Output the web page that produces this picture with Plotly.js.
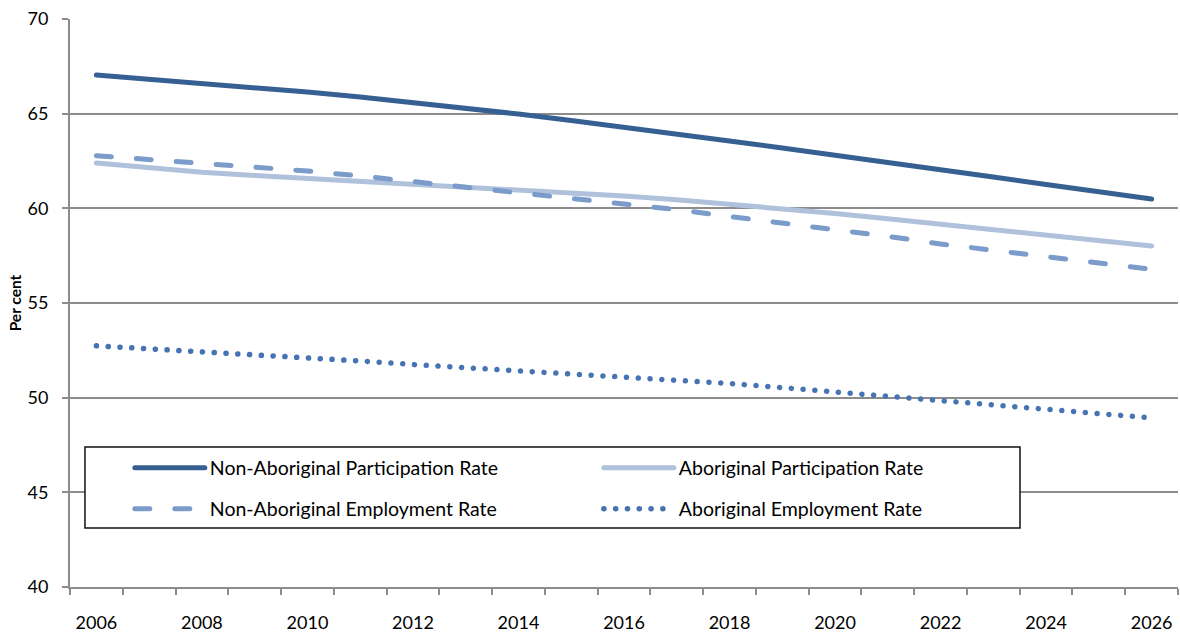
<!DOCTYPE html>
<html>
<head>
<meta charset="utf-8">
<script src="https://cdn.plot.ly/plotly-3.0.1.min.js"></script>
<style>
  html, body { margin: 0; padding: 0; background: #fff; }
  #chart { width: 1180px; height: 632px; }
  /* rounded ends for line strokes, dashes and dots */
  .js-line { stroke-linecap: round !important; stroke-linejoin: round !important; }
</style>
</head>
<body>
<div id="chart"></div>
<script>
// Years on the horizontal axis
const years = [2006, 2007, 2008, 2009, 2010, 2011, 2012, 2013, 2014, 2015, 2016,
               2017, 2018, 2019, 2020, 2021, 2022, 2023, 2024, 2025, 2026];

// Rates, per cent
const nonAboriginalParticipation = [67.04, 66.83, 66.62, 66.38, 66.14, 65.88, 65.59, 65.29, 64.98, 64.64, 64.30,
                                    63.93, 63.56, 63.19, 62.82, 62.42, 62.03, 61.65, 61.26, 60.88, 60.49];
const aboriginalParticipation    = [62.39, 62.14, 61.90, 61.74, 61.59, 61.44, 61.28, 61.11, 60.94, 60.80, 60.65,
                                    60.45, 60.22, 59.98, 59.73, 59.45, 59.17, 58.90, 58.62, 58.32, 58.01];
const nonAboriginalEmployment    = [62.78, 62.58, 62.37, 62.18, 61.97, 61.71, 61.42, 61.13, 60.84, 60.55, 60.26,
                                    59.93, 59.57, 59.24, 58.91, 58.52, 58.12, 57.80, 57.47, 57.13, 56.78];
const aboriginalEmployment       = [52.74, 52.59, 52.44, 52.28, 52.12, 51.94, 51.75, 51.59, 51.43, 51.29, 51.14,
                                    50.95, 50.75, 50.53, 50.30, 50.08, 49.85, 49.63, 49.40, 49.17, 48.93];

const seriesNames = ['Non-Aboriginal Participation Rate', 'Aboriginal Participation Rate',
                     'Non-Aboriginal Employment Rate', 'Aboriginal Employment Rate'];

// Value axis extent and step
const yRange = [40, 70];
const yStep = 5;

// Labelled years and the category boundaries that carry the tick marks
const labelYears = years.filter(y => (y - years[0]) % 2 === 0);
const boundaries = years.map(y => y - 0.5).concat([years[years.length - 1] + 0.5]);

const FONT = 'Lato, "Open Sans", sans-serif';
const GRID = '#8c8c8c';

const traces = [
  { x: years, y: nonAboriginalParticipation, name: seriesNames[0], legend: 'legend',
    line: { color: '#376092', width: 5 } },
  { x: years, y: aboriginalParticipation, name: seriesNames[1], legend: 'legend',
    line: { color: '#b0c1dc', width: 5 } },
  { x: years, y: nonAboriginalEmployment, name: seriesNames[2], legend: 'legend2',
    line: { color: '#7b9bcb', width: 5, dash: '15px,25px' } },
  { x: years, y: aboriginalEmployment, name: seriesNames[3], legend: 'legend2',
    line: { color: '#4673b2', width: 5.5, dash: '0.1px,11.7px' } },
  // empty series that attaches the labelled value axis
  { x: [], y: [], yaxis: 'y2', showlegend: false }
].map(t => Object.assign({ type: 'scatter', mode: 'lines', hoverinfo: 'skip' }, t));

const legendCommon = {
  orientation: 'h', xanchor: 'left', yanchor: 'middle', x: 0.054,
  bgcolor: 'rgba(0,0,0,0)', borderwidth: 0,
  itemwidth: 70, entrywidth: 384, entrywidthmode: 'pixels',
  font: { family: FONT, size: 19.5, color: '#000' }
};

const layout = {
  width: 1180, height: 632,
  margin: { l: 70, r: 2, t: 19, b: 45 },
  paper_bgcolor: '#fff', plot_bgcolor: '#fff',
  font: { family: FONT, size: 18, color: '#000' },
  showlegend: true,
  legend: Object.assign({}, legendCommon, { y: 0.2095 }),
  legend2: Object.assign({}, legendCommon, { y: 0.137 }),
  xaxis: {
    range: [boundaries[0], boundaries[boundaries.length - 1]],
    tickmode: 'array', tickvals: labelYears, ticktext: labelYears.map(String),
    ticks: '', ticklabelstandoff: 18,
    minor: { tickmode: 'array', tickvals: boundaries, ticks: 'outside', ticklen: 6,
             tickwidth: 2, tickcolor: GRID, showgrid: false },
    showgrid: false, zeroline: false,
    showline: true, linecolor: GRID, linewidth: 2,
    tickfont: { family: FONT, size: 18, color: '#000' },
    fixedrange: true
  },
  // gridlines, axis line and short tick marks
  yaxis: {
    range: yRange, tickmode: 'linear', tick0: yRange[0], dtick: yStep,
    ticks: 'outside', ticklen: 6, tickwidth: 2, tickcolor: GRID,
    showticklabels: false,
    showgrid: true, gridcolor: GRID, gridwidth: 2,
    zeroline: false, showline: true, linecolor: GRID, linewidth: 2,
    fixedrange: true
  },
  // value labels and axis title, set further out from the axis line
  yaxis2: {
    overlaying: 'y', side: 'left',
    range: yRange, tickmode: 'linear', tick0: yRange[0], dtick: yStep,
    ticks: 'outside', ticklen: 17, tickwidth: 1, tickcolor: 'rgba(0,0,0,0)',
    showgrid: false, zeroline: false, showline: false,
    tickfont: { family: FONT, size: 18, color: '#000' },
    title: { text: 'Per cent', standoff: 2,
             font: { family: FONT, size: 15.5, color: '#000', weight: 'bold' } },
    fixedrange: true
  },
  shapes: [
    // legend frame
    { type: 'rect', xref: 'paper', yref: 'paper', layer: 'above',
      x0: 0.0135, x1: 0.8574, y0: 0.1039, y1: 0.2465,
      line: { color: '#111', width: 1.5 }, fillcolor: '#fff' }
  ]
};

Plotly.newPlot('chart', traces, layout, { staticPlot: true, displayModeBar: false });
</script>
</body>
</html>
